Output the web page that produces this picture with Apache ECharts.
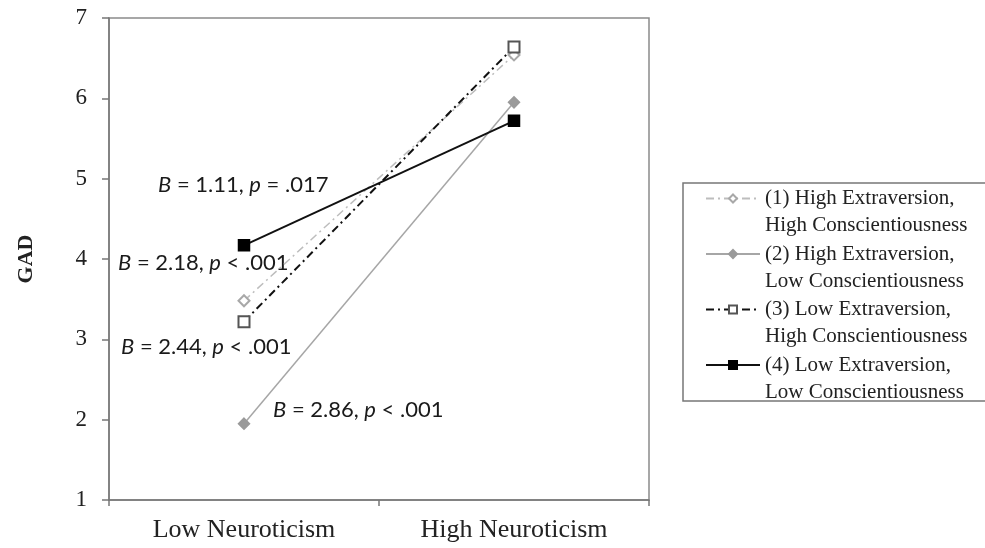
<!DOCTYPE html>
<html>
<head>
<meta charset="utf-8">
<script src="https://cdn.jsdelivr.net/npm/echarts@6/dist/echarts.min.js"></script>
<style>
  html, body { margin: 0; padding: 0; background: #fff; }
  #chart { width: 985px; height: 548px; }
</style>
</head>
<body>
<div id="chart"></div>
<script>
// categories and values
const categories = ['Low Neuroticism', 'High Neuroticism'];
const seriesNames = [
  '(1) High Extraversion,\nHigh Conscientiousness',
  '(2) High Extraversion,\nLow Conscientiousness',
  '(3) Low Extraversion,\nHigh Conscientiousness',
  '(4) Low Extraversion,\nLow Conscientiousness'
];
const hiExtHiCon = [3.48, 6.54];
const hiExtLoCon = [1.95, 5.95];
const loExtHiCon = [3.22, 6.64];
const loExtLoCon = [4.17, 5.72];
const yTicks = [1, 7, 1]; // min, max, interval

// slope annotations: [B, p-sign, p-value, left, centre y]
const notes = [
  ['1.11', '=', '.017', 158, 185],
  ['2.18', '<', '.001', 118, 263],
  ['2.44', '<', '.001', 121, 347],
  ['2.86', '<', '.001', 273, 410]
];

const serif = 'Liberation Serif';
const sans = 'Lato';

const chart = echarts.init(document.getElementById('chart'));

const line = (name, data, color, symbol, symColor, type, width) => ({
  name,
  type: 'line',
  data,
  symbol,
  symbolSize: 11,
  showSymbol: true,
  itemStyle: { color: symColor, borderColor: symColor, borderWidth: 1.5 },
  lineStyle: { color, type, width },
  emphasis: { disabled: true },
  animation: false
});

const option = {
  backgroundColor: '#fff',
  grid: {
    left: 109,
    right: 336,
    top: 18,
    bottom: 48,
    show: true,
    borderColor: '#8a8a8a',
    borderWidth: 1.5,
    containLabel: false
  },
  legend: {
    orient: 'vertical',
    left: 705,
    top: 158,
    padding: 0,
    itemGap: -25.5,
    itemWidth: 54,
    itemHeight: 10,
    data: seriesNames,
    // blank first line keeps the icon level with the first text line
    formatter: name => '\n' + name,
    textStyle: {
      fontFamily: serif,
      fontSize: 21,
      color: '#222',
      lineHeight: 27
    }
  },
  xAxis: {
    type: 'category',
    data: categories,
    boundaryGap: true,
    axisLine: { lineStyle: { color: '#777', width: 1.5 } },
    axisTick: { show: true, length: 6, lineStyle: { color: '#777', width: 1.5 } },
    axisLabel: {
      fontFamily: serif,
      fontSize: 26,
      color: '#222',
      margin: 17
    }
  },
  yAxis: {
    type: 'value',
    min: yTicks[0],
    max: yTicks[1],
    interval: yTicks[2],
    name: 'GAD',
    nameLocation: 'middle',
    nameGap: 72,
    nameTextStyle: {
      fontFamily: serif,
      fontSize: 22,
      fontWeight: 'bold',
      color: '#222'
    },
    splitLine: { show: false },
    axisLine: { show: true, lineStyle: { color: '#777', width: 1.5 } },
    axisTick: { show: true, length: 7, lineStyle: { color: '#777', width: 1.5 } },
    axisLabel: {
      fontFamily: serif,
      fontSize: 23,
      color: '#222',
      margin: 22
    }
  },
  series: [
    line(seriesNames[0], hiExtHiCon, '#bdbdbd', 'emptyDiamond', '#a8a8a8', [8, 4, 2, 4], 1.5),
    line(seriesNames[1], hiExtLoCon, '#a6a6a6', 'diamond', '#9a9a9a', 'solid', 1.5),
    line(seriesNames[2], loExtHiCon, '#111', 'emptyRect', '#555', [8, 4, 2, 4], 2),
    line(seriesNames[3], loExtLoCon, '#111', 'rect', '#000', 'solid', 2)
  ],
  graphic: [
    {
      type: 'rect',
      silent: true,
      shape: { x: 683, y: 183, width: 330, height: 218 },
      style: { fill: 'none', stroke: '#777', lineWidth: 1.5 }
    }
  ].concat(notes.map(([b, sign, p, x, y]) => ({
    type: 'text',
    x,
    y,
    silent: true,
    style: {
      text: `{i|B} = ${b}, {i|p} ${sign} ${p}`,
      fontFamily: sans,
      fontSize: 22,
      fill: '#1a1a1a',
      verticalAlign: 'middle',
      rich: {
        i: { fontFamily: sans, fontSize: 22, fontStyle: 'italic', fill: '#1a1a1a' }
      }
    }
  })))
};

chart.setOption(option);
</script>
</body>
</html>
